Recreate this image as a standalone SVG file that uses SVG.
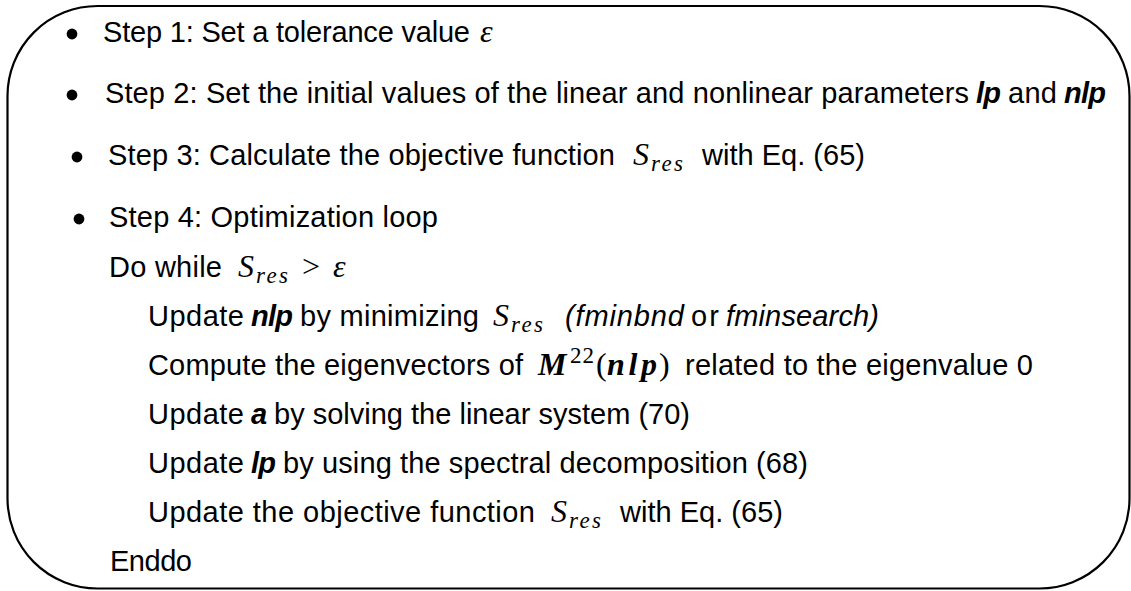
<svg xmlns="http://www.w3.org/2000/svg" width="1131" height="591" viewBox="0 0 1131 591">
<style>
.t{font-family:"Liberation Sans",Arial,sans-serif;font-size:29px;fill:#000}
.bi{font-weight:bold;font-style:italic}
.it{font-style:italic}
.m{font-family:"Liberation Serif","Times New Roman",serif;font-style:italic;font-size:32px;fill:#000}
.ms{font-family:"Liberation Serif","Times New Roman",serif;font-style:italic;font-size:23px;fill:#000}
.mr{font-family:"Liberation Serif","Times New Roman",serif;font-size:32px;fill:#000}
.mb{font-family:"Liberation Serif","Times New Roman",serif;font-style:italic;font-weight:bold;font-size:32px;fill:#000}
.b{fill:#000}
</style>
<rect x="1" y="1" width="1129" height="589" fill="#fff"/>
<rect id="frame" x="7.5" y="6" width="1122" height="582.5" rx="90" ry="90" fill="none" stroke="#000" stroke-width="2.2"/>

<g id="step1">
<circle class="b" cx="72" cy="34" r="5.4"/>
<text class="t" x="103" y="42" textLength="367">Step 1: Set a tolerance value</text>
<text class="m" x="480" y="42">ε</text>
</g>

<g id="step2">
<circle class="b" cx="72" cy="95" r="5.4"/>
<text class="t" x="105" y="103" textLength="864">Step 2: Set the initial values of the linear and nonlinear parameters</text>
<text class="t bi" x="976" y="103" textLength="25">lp</text>
<text class="t" x="1008" y="103" textLength="49">and</text>
<text class="t bi" x="1064" y="103" textLength="42">nlp</text>
</g>

<g id="step3">
<circle class="b" cx="77" cy="157" r="5.4"/>
<text class="t" x="108" y="165" textLength="507">Step 3: Calculate the objective function</text>
<text class="m" x="633" y="165">S</text>
<text class="ms" x="651" y="171" textLength="32">res</text>
<text class="t" x="702" y="165" textLength="163">with Eq. (65)</text>
</g>

<g id="step4">
<circle class="b" cx="79" cy="219" r="5.4"/>
<text class="t" x="109" y="227" textLength="329">Step 4: Optimization loop</text>
</g>

<g id="dowhile">
<text class="t" x="109" y="277" textLength="113">Do while</text>
<text class="m" x="238" y="277">S</text>
<text class="ms" x="256" y="283" textLength="32">res</text>
<text class="mr" x="302" y="277">&gt;</text>
<text class="m" x="333" y="277">ε</text>
</g>

<g id="update-nlp">
<text class="t" x="148" y="326" textLength="96">Update</text>
<text class="t bi" x="251" y="326" textLength="42">nlp</text>
<text class="t" x="300" y="326" textLength="179">by minimizing</text>
<text class="m" x="493" y="326">S</text>
<text class="ms" x="511" y="332" textLength="32">res</text>
<text class="t it" x="565" y="326" textLength="119">(fminbnd</text>
<text class="t" x="691" y="326" textLength="28">or</text>
<text class="t it" x="726" y="326" textLength="153">fminsearch)</text>
</g>

<g id="compute">
<text class="t" x="148" y="375" textLength="375">Compute the eigenvectors of</text>
<text class="mb" x="538" y="375">M</text>
<text class="ms" x="570" y="363" style="font-style:normal" textLength="24">22</text>
<text class="mr" x="596" y="375">(</text>
<text class="mb" x="607" y="375" textLength="50">nlp</text>
<text class="mr" x="659" y="375">)</text>
<text class="t" x="685" y="375" textLength="348">related to the eigenvalue 0</text>
</g>

<g id="update-a">
<text class="t" x="148" y="424" textLength="96">Update</text>
<text class="t bi" x="251" y="424">a</text>
<text class="t" x="274" y="424" textLength="416">by solving the linear system (70)</text>
</g>

<g id="update-lp">
<text class="t" x="148" y="473" textLength="96">Update</text>
<text class="t bi" x="251" y="473" textLength="25">lp</text>
<text class="t" x="283" y="473" textLength="525">by using the spectral decomposition (68)</text>
</g>

<g id="update-obj">
<text class="t" x="148" y="522" textLength="387">Update the objective function</text>
<text class="m" x="551" y="522">S</text>
<text class="ms" x="569" y="528" textLength="32">res</text>
<text class="t" x="620" y="522" textLength="163">with Eq. (65)</text>
</g>

<g id="enddo">
<text class="t" x="110" y="571" textLength="82">Enddo</text>
</g>

<g id="connectors"/>
</svg>
